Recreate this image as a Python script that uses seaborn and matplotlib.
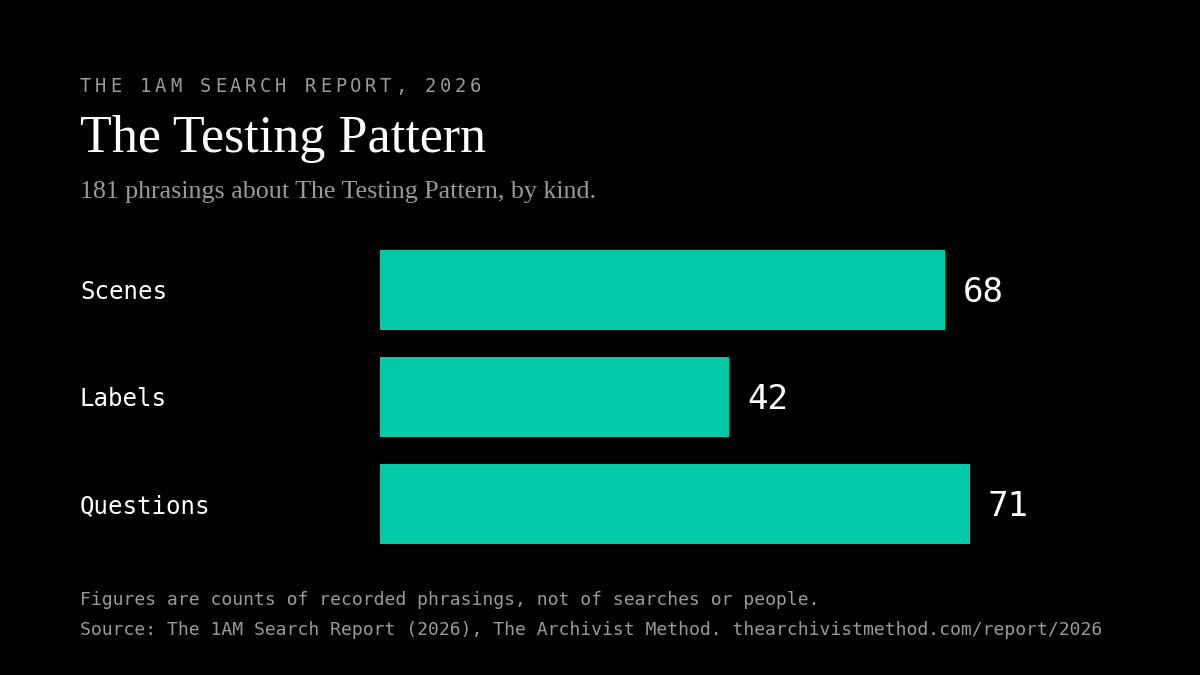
import numpy as np
import pandas as pd
import seaborn as sns
import matplotlib
matplotlib.use('Agg')
import matplotlib.pyplot as plt
import matplotlib.transforms as mtrans

categories = ['Scenes', 'Labels', 'Questions']
counts = [68, 42, 71]

kicker = 'THE 1AM SEARCH REPORT, 2026'
title = 'The Testing Pattern'
subtitle = '181 phrasings about The Testing Pattern, by kind.'
note = 'Figures are counts of recorded phrasings, not of searches or people.'
source = 'Source: The 1AM Search Report (2026), The Archivist Method. thearchivistmethod.com/report/2026'

BG = '#000000'
BAR = '#00C9A8'
GREY = '#9a9a9a'
MONO = 'DejaVu Sans Mono'
SERIF = 'Liberation Serif'

sns.set_theme(style='white')
plt.rcParams['font.family'] = ['DejaVu Sans']

W, H = 1200, 675
fig = plt.figure(figsize=(W / 100, H / 100), dpi=100, facecolor=BG)

def fx(px):
    return px / W

def fy(py):
    return 1 - py / H

# axes: x from 380 px to 1120 px, y band 236..557 px
ax = fig.add_axes([fx(380), fy(557.5), fx(1120 - 380), (557.5 - 236.5) / H])
ax.set_facecolor(BG)

df = pd.DataFrame({'kind': categories, 'count': counts})
sns.barplot(data=df, x='count', y='kind', orient='h', color=BAR,
            width=0.748, saturation=1, ax=ax)
ax.set_xlim(0, (1120 - 380) / 8.31)
ax.set_ylim(2.5, -0.5)
for p in ax.patches:
    p.set_edgecolor('none')
ax.set_xlabel('')
ax.set_ylabel('')
ax.set_xticks([])
ax.set_yticks([])
sns.despine(ax=ax, left=True, bottom=True)

# category labels at left, value labels at bar ends
lab_tr = mtrans.blended_transform_factory(fig.transFigure, ax.transData)
for i, (c, v) in enumerate(zip(categories, counts)):
    ax.text(fx(80), i + 0.02, c, transform=lab_tr, ha='left', va='center',
            color='white', fontsize=17.4, family=MONO)
    ax.annotate(str(v), (v, i + 0.02), xytext=(13, 0), textcoords='offset points',
                ha='left', va='center', color='white', fontsize=24.6, family=MONO)

# kicker with letter spacing
adv = 15.0
for k, ch in enumerate(kicker):
    fig.text(fx(80 + k * adv), fy(92), ch, ha='left', va='baseline',
             color=GREY, fontsize=13.5, family=MONO)

fig.text(fx(80), fy(152), title, ha='left', va='baseline', color='white',
         fontsize=37.5, family=SERIF)
fig.text(fx(80), fy(198), subtitle, ha='left', va='baseline', color=GREY,
         fontsize=18.7, family=SERIF)

fig.text(fx(80), fy(605), note, ha='left', va='baseline', color=GREY,
         fontsize=13.0, family=MONO)
fig.text(fx(80), fy(635), source, ha='left', va='baseline', color=GREY,
         fontsize=13.0, family=MONO)

fig.savefig('out.png', dpi=100, facecolor=BG)
